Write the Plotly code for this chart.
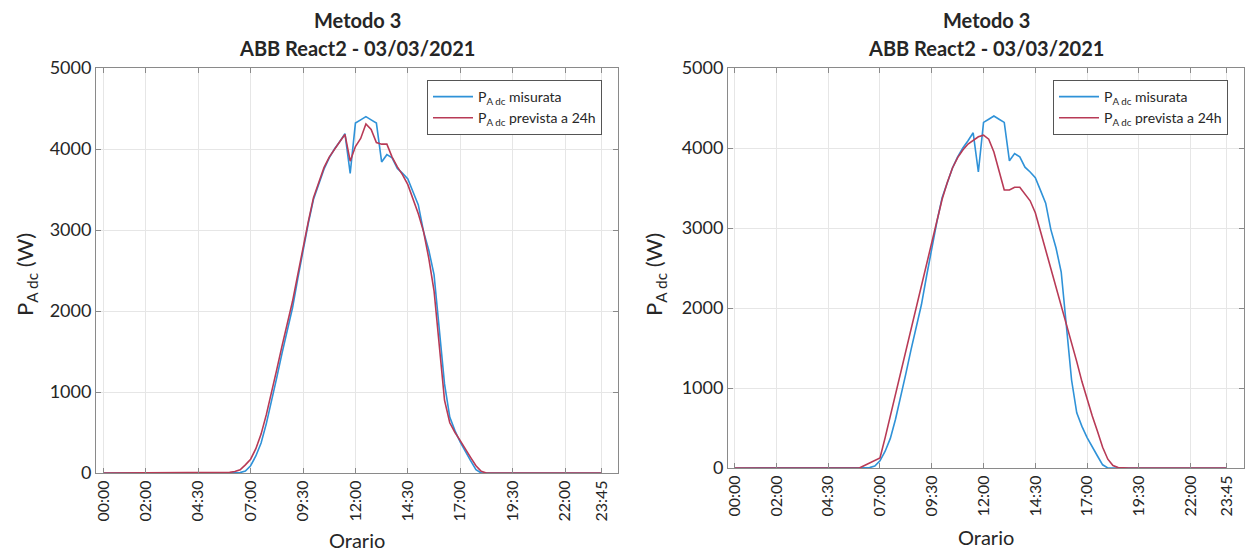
import plotly.graph_objects as go

# ---- data (15-minute samples, 00:00 .. 23:45) ----
time_labels = [f"{(i*15)//60:02d}:{(i*15)%60:02d}" for i in range(96)]
tick_labels = ["00:00", "02:00", "04:30", "07:00", "09:30", "12:00",
               "14:30", "17:00", "19:30", "22:00", "23:45"]

measured = ([0] * 26 +
            [5, 25, 90, 210, 370, 610, 880, 1180, 1480, 1760,
             2040, 2400, 2760, 3080, 3380, 3580, 3750, 3890, 4000, 4090,
             4190, 3700, 4320, 4360, 4400, 4360, 4320, 3840, 3930, 3890,
             3760, 3700, 3630, 3470, 3310, 2980, 2750, 2450, 1750, 1100,
             690, 520, 380, 260, 150, 40] +
            [0] * 24)

forecast_left = ([0] * 23 +
                 [2, 8, 18, 40, 100, 170, 300, 480, 720, 990,
                  1280, 1570, 1850, 2120, 2450, 2790, 3100, 3400, 3600, 3770,
                  3900, 4000, 4090, 4180, 3850, 4030, 4130, 4310, 4240, 4080,
                  4060, 4060, 3900, 3780, 3680, 3560, 3390, 3200, 2980, 2650,
                  2250, 1600, 900, 620, 500, 400, 290, 190, 90, 20] +
                 [0] * 23)

forecast_right = ([0] * 25 +
                  [30, 65, 95, 125, 380, 650, 910, 1180, 1450, 1720,
                   1980, 2250, 2530, 2810, 3100, 3360, 3570, 3750, 3880, 3975,
                   4050, 4100, 4140, 4160, 4110, 3950, 3720, 3475, 3475, 3510,
                   3510, 3420, 3340, 3190, 2960, 2720, 2480, 2250, 2020, 1800,
                   1560, 1330, 1080, 850, 650, 460, 260, 110, 30, 5] +
                  [0] * 21)

x_idx = list(range(96))
tick_pos = [time_labels.index(t) for t in tick_labels]

BLUE = "#2f92d8"
RED = "#b83a56"
FONT = "Lato"
AX = "#8a8a8a"
TXT = "#262626"

fig = go.Figure()
fig.add_trace(go.Scatter(x=x_idx, y=measured, mode="lines",
                         line=dict(color=BLUE, width=1.6),
                         name="P<sub>A dc</sub> misurata", legend="legend",
                         xaxis="x", yaxis="y"))
fig.add_trace(go.Scatter(x=x_idx, y=forecast_left, mode="lines",
                         line=dict(color=RED, width=1.6),
                         name="P<sub>A dc</sub> prevista a 24h", legend="legend",
                         xaxis="x", yaxis="y"))
fig.add_trace(go.Scatter(x=x_idx, y=measured, mode="lines",
                         line=dict(color=BLUE, width=1.6),
                         name="P<sub>A dc</sub> misurata", legend="legend2",
                         xaxis="x2", yaxis="y2"))
fig.add_trace(go.Scatter(x=x_idx, y=forecast_right, mode="lines",
                         line=dict(color=RED, width=1.6),
                         name="P<sub>A dc</sub> prevista a 24h", legend="legend2",
                         xaxis="x2", yaxis="y2"))

W, H = 1256, 551


def xd(a, b):
    return [a / W, b / W]


def yd(top, bottom):
    return [(H - bottom) / H, (H - top) / H]


xcommon = dict(tickmode="array", tickvals=tick_pos, ticktext=tick_labels,
               tickangle=-90, showgrid=True, gridcolor="#e6e6e6", gridwidth=1,
               showline=True, linecolor=AX, linewidth=1, mirror="ticks",
               ticks="inside", ticklen=5, tickcolor=AX, zeroline=False,
               automargin=False,
               tickfont=dict(family=FONT, size=16, color=TXT))
ycommon = dict(range=[0, 5000], tickvals=[0, 1000, 2000, 3000, 4000, 5000],
               showgrid=True, gridcolor="#e6e6e6", gridwidth=1,
               showline=True, linecolor=AX, linewidth=1, mirror="ticks",
               ticks="inside", ticklen=5, tickcolor=AX, zeroline=False,
               automargin=False,
               tickfont=dict(family=FONT, size=18, color=TXT))

legcommon = dict(bgcolor="white", bordercolor="#555555", borderwidth=1,
                 font=dict(family=FONT, size=14, color=TXT),
                 xanchor="left", yanchor="top", itemwidth=40,
                 tracegroupgap=0)

fig.update_layout(
    width=W, height=H,
    autosize=False,
    margin=dict(l=0, r=0, t=0, b=0, pad=0, autoexpand=False),
    paper_bgcolor="white", plot_bgcolor="white",
    font=dict(family=FONT, color=TXT),
    xaxis=dict(domain=xd(96, 618), range=[-1.5, 98.1], anchor="y", **xcommon),
    yaxis=dict(domain=yd(68, 473), anchor="x", **ycommon),
    xaxis2=dict(domain=xd(728, 1244), range=[-1.35, 98.3], anchor="y2", **xcommon),
    yaxis2=dict(domain=yd(68, 468), anchor="x2", **ycommon),
    legend=dict(x=427 / W, y=1 - 80 / H, **legcommon),
    legend2=dict(x=1053 / W, y=1 - 80 / H, **legcommon),
    showlegend=True,
)

panels = [((96 + 618) / 2, 26, 540), ((728 + 1244) / 2, 655, 537)]
for cx, ylab_x, xlab_y in panels:
    fig.add_annotation(x=cx / W, y=1 - 20 / H, xref="paper", yref="paper",
                       text="<b>Metodo 3</b>", showarrow=False,
                       font=dict(family=FONT, size=20, color=TXT),
                       xanchor="center", yanchor="middle")
    fig.add_annotation(x=cx / W, y=1 - 48 / H, xref="paper", yref="paper",
                       text="<b>ABB React2 - 03/03/2021</b>", showarrow=False,
                       font=dict(family=FONT, size=20, color=TXT),
                       xanchor="center", yanchor="middle")
    fig.add_annotation(x=cx / W, y=1 - xlab_y / H, xref="paper", yref="paper",
                       text="Orario", showarrow=False,
                       font=dict(family=FONT, size=20, color=TXT),
                       xanchor="center", yanchor="middle")
    fig.add_annotation(x=ylab_x / W, y=1 - 275 / H, xref="paper", yref="paper",
                       text="P<sub>A dc</sub> (W)", showarrow=False, textangle=-90,
                       font=dict(family=FONT, size=22, color=TXT),
                       xanchor="center", yanchor="middle")

fig.write_html("out.html",
               config={"displayModeBar": False},
               post_script="document.body.style.margin='0';"
                           "document.body.style.overflow='hidden';")
